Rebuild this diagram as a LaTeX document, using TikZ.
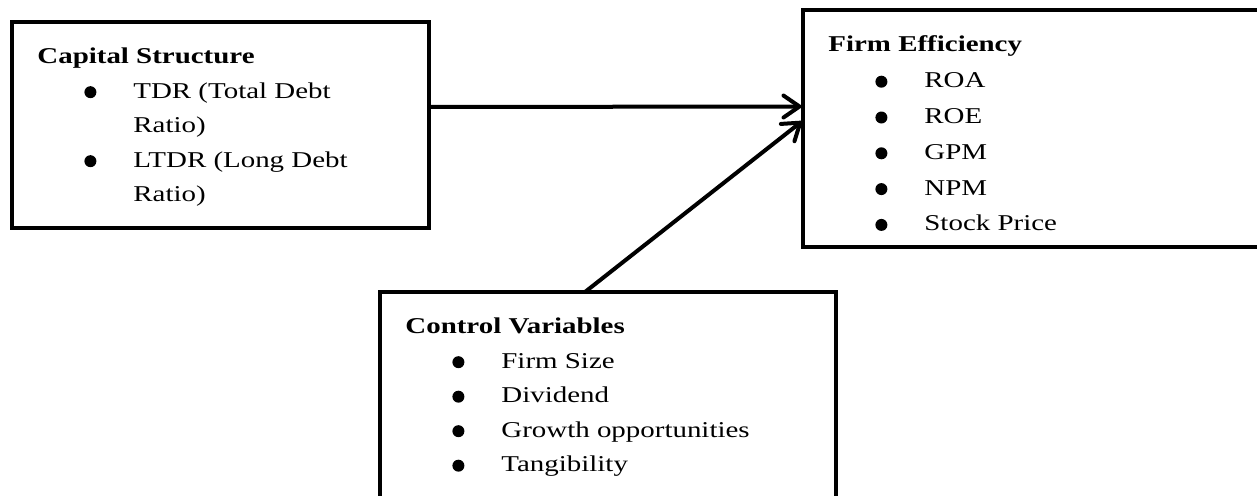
\documentclass[tikz,border=0pt]{standalone}
\usepackage{fontspec}
\setmainfont{Liberation Serif}[FakeStretch = 1.28]
\usetikzlibrary{calc}
\usetikzlibrary{arrows.meta}
\usetikzlibrary{positioning}

\newcommand{\dotmark}{\tikz[baseline = -3pt]\fill[black] (0pt,0pt) circle (3pt);}
\newcommand{\bul}{\makebox[48pt][l]{\hspace*{23.5pt}\dotmark}}
\newcommand{\wrp}{\hspace*{48pt}}

\begin{document}
\begin{tikzpicture}[x = 0.5pt, y = -0.5pt,
    panel/.style = {draw = black, line width = 2.2pt, minimum height = 103pt, inner sep = 0pt, outer sep = 0pt},
    paneltext/.style = {align = left, inner sep = 0pt, font = \fontsize{11.3}{17.25}\selectfont},
    link/.style = {line width = 2pt, line cap = round, -{Straight Barb[length = 8pt, width = 11pt, line cap = round]}}]

    \useasboundingbox (0,0) rectangle (1257,496);

    \node[panel, minimum width = 208.5pt] (capbox) at (220.5,125) {};
    \node[panel, minimum width = 248.5pt, minimum height = 118.5pt] (effbox) at (1051.5,128.5) {};
    \node[panel, minimum width = 228pt] (ctrlbox) at (608,395) {};

    \node[paneltext, below right = 12.8pt and 12.5pt of capbox.north west] (captext)
        {\textbf{Capital Structure}\\ \bul TDR (Total Debt\\ \wrp Ratio)\\ \bul LTDR (Long Debt\\ \wrp Ratio)};
    \node[paneltext, font = \fontsize{11.3}{17.9}\selectfont, below right = 12.8pt and 12.5pt of effbox.north west] (efftext)
        {\textbf{Firm Efficiency}\\ \bul ROA\\ \bul ROE\\ \bul GPM\\ \bul NPM\\ \bul Stock Price};
    \node[paneltext, below right = 12.8pt and 12.5pt of ctrlbox.north west] (ctrltext)
        {\textbf{Control Variables}\\ \bul Firm Size\\ \bul Dividend\\ \bul Growth opportunities\\ \bul Tangibility};

    \draw[link] ([yshift = 9pt]capbox.east) -- ([yshift = 11pt]effbox.west);
    \draw[link] ([xshift = -11.5pt]ctrlbox.north) -- ([yshift = 4pt]effbox.west);
\end{tikzpicture}
\end{document}
